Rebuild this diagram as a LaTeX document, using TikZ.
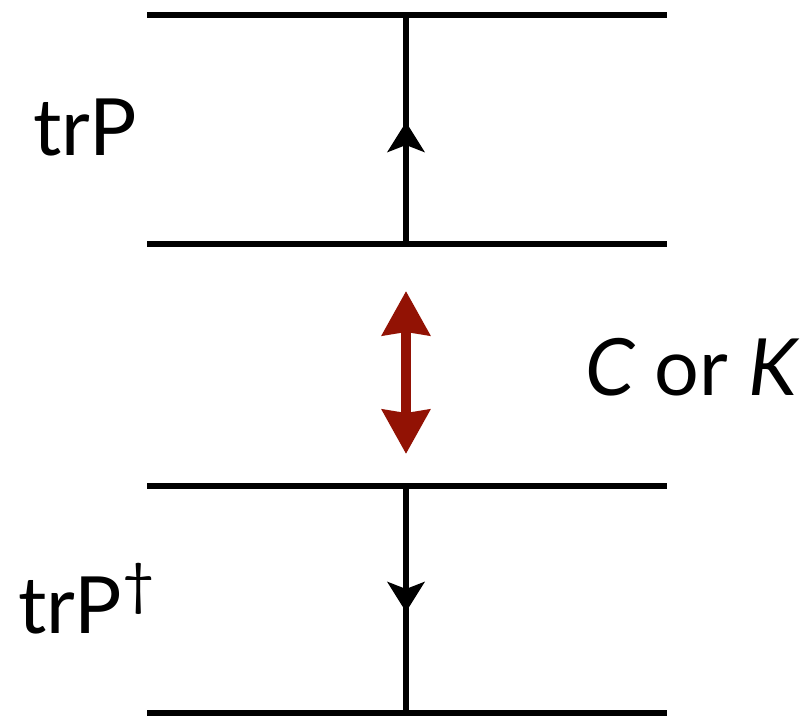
\documentclass[tikz,border=0pt]{standalone}
\usepackage{fontspec}
\setmainfont{Lato}
\usetikzlibrary{arrows.meta}
\definecolor{arrred}{RGB}{146,18,4}
\begin{document}
\begin{tikzpicture}[x=1pt,y=-1pt,
  levelline/.style={line width=6pt},
  flowline/.style={line width=6pt},
  flowtip/.style={-{Stealth[length=30pt,width=37pt,inset=7pt]}},
  redarrow/.style={arrred,line width=10pt,{Stealth[length=44pt,width=47pt,inset=3pt]}-{Stealth[length=44pt,width=47pt,inset=3pt]}},
  lbl/.style={font=\fontsize{79}{90}\selectfont,inner sep=0pt,anchor=base west}]
\useasboundingbox (0,0) rectangle (812,717);
% level lines
\coordinate (l1a) at (147,15);  \coordinate (l1b) at (667,15);
\coordinate (l2a) at (147,244); \coordinate (l2b) at (667,244);
\coordinate (l3a) at (147,486); \coordinate (l3b) at (667,486);
\coordinate (l4a) at (147,713); \coordinate (l4b) at (667,713);
\draw[levelline] (l1a) -- (l1b);
\draw[levelline] (l2a) -- (l2b);
\draw[levelline] (l3a) -- (l3b);
\draw[levelline] (l4a) -- (l4b);
% vertical flow lines
\coordinate (v1t) at (406,15);  \coordinate (v1b) at (406,244);
\coordinate (v2t) at (406,486); \coordinate (v2b) at (406,713);
\draw[flowline] (v1t) -- (v1b);
\draw[flowline] (v2t) -- (v2b);
\coordinate (up0) at (406,200); \coordinate (up1) at (406,122);
\coordinate (dn0) at (406,520); \coordinate (dn1) at (406,612);
\draw[flowline,flowtip] (up0) -- (up1);
\draw[flowline,flowtip] (dn0) -- (dn1);
% red double arrow
\coordinate (r1) at (406,291); \coordinate (r2) at (406,454);
\draw[redarrow] (r1) -- (r2);
% labels
\node[lbl] (trp) at (33,155) {trP};
\node[lbl] (trpd) at (18,633) {trP\raisebox{0.36em}{\fontsize{56}{58}\selectfont †}};
\node[lbl] (cork) at (585,395) {\itshape C\upshape{} or \itshape K};
\end{tikzpicture}
\end{document}
